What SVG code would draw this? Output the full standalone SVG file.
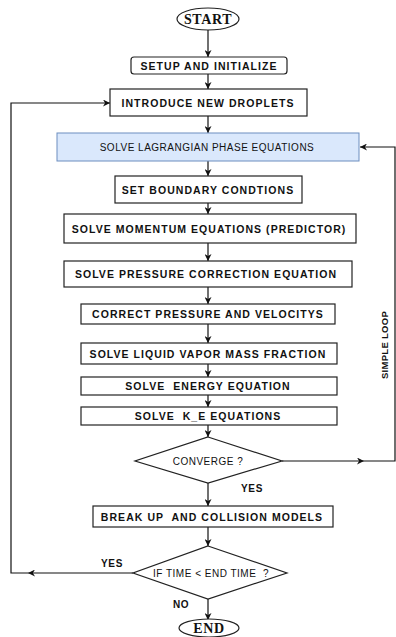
<svg xmlns="http://www.w3.org/2000/svg" width="396" height="637" viewBox="0 0 396 637">
<style>
.box{fill:#fff;stroke:#222;stroke-width:1.2}
.t{font-family:"Liberation Sans",Arial,sans-serif;font-weight:bold;font-size:10.5px;letter-spacing:1.05px;fill:#111;text-anchor:middle;dominant-baseline:central;white-space:pre}
.tn{font-family:"Liberation Sans",Arial,sans-serif;font-size:10px;letter-spacing:0.5px;fill:#111;text-anchor:middle;dominant-baseline:central;white-space:pre}
.tl{font-family:"Liberation Sans",Arial,sans-serif;font-weight:bold;font-size:10px;letter-spacing:0.6px;fill:#111;text-anchor:middle;dominant-baseline:central}
.ts{font-family:"Liberation Serif","Times New Roman",serif;font-weight:bold;font-size:14px;letter-spacing:0.6px;fill:#111;text-anchor:middle;dominant-baseline:central}
.c{fill:none;stroke:#111;stroke-width:1.2}
</style>
<defs>
<marker id="a" viewBox="0 0 10 10" refX="10" refY="5" markerWidth="7" markerHeight="7" orient="auto" markerUnits="userSpaceOnUse">
<path d="M0,0 L10,5 L0,10 L3,5 Z" fill="#111"/>
</marker>
</defs>
<g id="connectors">
<path class="c" d="M208,30 V57" marker-end="url(#a)"/>
<path class="c" d="M208,74 V89" marker-end="url(#a)"/>
<path class="c" d="M208,116 V133" marker-end="url(#a)"/>
<path class="c" d="M208,161 V176" marker-end="url(#a)"/>
<path class="c" d="M208,203 V214" marker-end="url(#a)"/>
<path class="c" d="M208,243 V261" marker-end="url(#a)"/>
<path class="c" d="M208,287 V304" marker-end="url(#a)"/>
<path class="c" d="M208,324 V343" marker-end="url(#a)"/>
<path class="c" d="M208,364 V377" marker-end="url(#a)"/>
<path class="c" d="M208,395 V407" marker-end="url(#a)"/>
<path class="c" d="M208,425 V437" marker-end="url(#a)"/>
<path class="c" d="M208,483 V506" marker-end="url(#a)"/>
<path class="c" d="M208,527 V546" marker-end="url(#a)"/>
<path class="c" d="M208,599 V620" marker-end="url(#a)"/>
<path class="c" d="M282,461 H364" marker-end="url(#a)"/>
<path class="c" d="M364,461 H395 V147 H360" marker-end="url(#a)"/>
<path class="c" d="M133,573 H28" marker-end="url(#a)"/>
<path class="c" d="M28,573 H11 V103 H110" marker-end="url(#a)"/>
<text class="tl" x="252" y="488">YES</text>
<text class="tl" x="112" y="563">YES</text>
<text class="tl" x="181" y="604">NO</text>
<text class="tl" transform="translate(384,345) rotate(-90)" style="font-size:9.5px;letter-spacing:0.3px">SIMPLE LOOP</text>
</g>
<g id="start"><ellipse class="box" cx="208" cy="19" rx="31" ry="11"/><text class="ts" x="208" y="19">START</text></g>
<g id="setup"><rect class="box" x="131" y="57" width="156" height="17" rx="3"/><text class="t" x="209" y="65.5">SETUP AND INITIALIZE</text></g>
<g id="introduce"><rect class="box" x="110" y="89" width="197" height="27"/><text class="t" x="208" y="102.5">INTRODUCE NEW DROPLETS</text></g>
<g id="lagrangian"><rect x="57" y="133" width="302" height="28" fill="#dae8fc" stroke="#6c8ebf" stroke-width="1"/><text class="tn" x="207" y="147">SOLVE LAGRANGIAN PHASE EQUATIONS</text></g>
<g id="boundary"><rect class="box" x="115" y="176" width="187" height="27"/><text class="t" x="208" y="189.5">SET BOUNDARY CONDTIONS</text></g>
<g id="momentum"><rect class="box" x="64" y="214" width="292" height="29"/><text class="t" x="209" y="228.5">SOLVE MOMENTUM EQUATIONS (PREDICTOR)</text></g>
<g id="pressure"><rect class="box" x="64" y="261" width="288" height="26"/><text class="t" x="206" y="274">SOLVE PRESSURE CORRECTION EQUATION</text></g>
<g id="correct"><rect class="box" x="81" y="304" width="254" height="20"/><text class="t" x="208" y="314">CORRECT PRESSURE AND VELOCITYS</text></g>
<g id="vapor"><rect class="box" x="81" y="343" width="256" height="21"/><text class="t" x="208" y="353.5">SOLVE LIQUID VAPOR MASS FRACTION</text></g>
<g id="energy"><rect class="box" x="81" y="377" width="256" height="18"/><text class="t" x="208" y="386">SOLVE  ENERGY EQUATION</text></g>
<g id="ke"><rect class="box" x="81" y="407" width="256" height="18"/><text class="t" x="208" y="416">SOLVE  K_E EQUATIONS</text></g>
<g id="converge"><polygon class="box" points="208,437 282,461 208,483 135,461"/><text class="tn" x="208" y="461">CONVERGE ?</text></g>
<g id="breakup"><rect class="box" x="93" y="506" width="240" height="21"/><text class="t" x="212" y="516.5">BREAK UP  AND COLLISION MODELS</text></g>
<g id="time"><polygon class="box" points="208,546 287,573 208,599 133,573"/><text class="tn" x="211" y="573">IF TIME &lt; END TIME  ?</text></g>
<g id="end"><ellipse class="box" cx="209" cy="628" rx="30" ry="9"/><text class="ts" x="209" y="628">END</text></g>
</svg>
